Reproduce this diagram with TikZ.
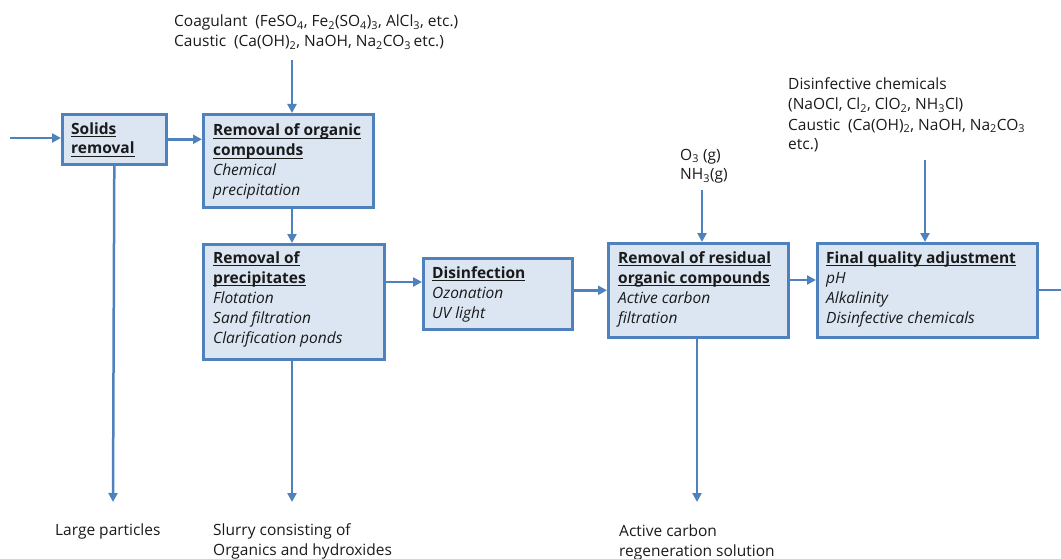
\documentclass[tikz,border=0pt]{standalone}
\usepackage{fontspec}
\setmainfont{Open Sans}
\usetikzlibrary{arrows.meta,calc}
\definecolor{flowblue}{HTML}{4F81BD}
\definecolor{boxfill}{HTML}{DCE6F2}
\definecolor{ink}{HTML}{1A1A1A}
% bold heading with a heavy underline
\newcommand{\hd}[1]{\setbox0\hbox{\textbf{#1}}\rlap{\rule[-3.2pt]{\wd0}{1.3pt}}\box0}
\newcommand{\sub}[1]{\textsubscript{#1}}
% text nodes are placed by the baseline of their last line
\tikzset{
  box/.style={draw=flowblue, fill=boxfill, line width=2.6pt, rectangle, inner sep=0pt, anchor=north west},
  label text/.style={anchor=base west, align=left, inner sep=0pt, text=ink,
    font=\fontsize{15.5}{20}\selectfont},
  flow/.style={draw=flowblue, line width=2.5pt, -{Triangle[length=9pt,width=9pt]}},
  plain flow/.style={draw=flowblue, line width=2.5pt},
}
\begin{document}
\begin{tikzpicture}[x=1pt,y=-1pt]
\useasboundingbox (0,0) rectangle (1061,559);

% process boxes
\node[box, minimum width=104pt, minimum height=50pt]  (solids)   at (61,113)  {};
\node[box, minimum width=170pt, minimum height=93pt]  (organic)  at (202,113) {};
\node[box, minimum width=181pt, minimum height=115pt] (precip)   at (202,243) {};
\node[box, minimum width=149pt, minimum height=71pt]  (disinf)   at (422,257) {};
\node[box, minimum width=180pt, minimum height=94pt]  (residual) at (607,242) {};
\node[box, minimum width=220pt, minimum height=94pt]  (final)    at (816,242) {};

% box contents
\node[label text] (solidsT)   at (71,154)  {\hd{Solids}\\\hd{removal}};
\node[label text] (organicT)  at (213,196) {\hd{Removal of organic}\\\hd{compounds}\\\textit{Chemical}\\\textit{precipitation}};
\node[label text] (precipT)   at (213,343) {\hd{Removal of}\\\hd{precipitates}\\\textit{Flotation}\\\textit{Sand filtration}\\\textit{Clarification ponds}};
\node[label text] (disinfT)   at (432,318) {\hd{Disinfection}\\\textit{Ozonation}\\\textit{UV light}};
\node[label text] (residualT) at (618,323) {\hd{Removal of residual}\\\hd{organic compounds}\\\textit{Active carbon}\\\textit{filtration}};
\node[label text] (finalT)    at (826,323) {\hd{Final quality adjustment}\\\textit{pH}\\\textit{Alkalinity}\\\textit{Disinfective chemicals}};

% inputs and outputs
\node[label text] (coag) at (174,47) {Coagulant\enspace(FeSO\sub{4}, Fe\sub{2}(SO\sub{4})\sub{3}, AlCl\sub{3}, etc.)\\Caustic\enspace(Ca(OH)\sub{2}, NaOH, Na\sub{2}CO\sub{3}\,etc.)};
\node[label text] (gas)  at (680,180) {O\sub{3} (g)\\NH\sub{3}(g)};
\node[label text] (dchem) at (788,150) {Disinfective chemicals\\(NaOCl, Cl\sub{2}, ClO\sub{2}, NH\sub{3}Cl)\\Caustic\enspace(Ca(OH)\sub{2}, NaOH, Na\sub{2}CO\sub{3}\\etc.)};
\node[label text] (large) at (55,535) {Large particles};
\node[label text] (slurry) at (213,555) {Slurry consisting of\\Organics and hydroxides};
\node[label text] (regen) at (619,556) {Active carbon\\regeneration solution};

% free connector ends
\coordinate (in)      at (10,138);
\coordinate (coagIn)  at (292,60);
\coordinate (gasIn)   at (702,190);
\coordinate (dchemIn) at (925,160);
\coordinate (largeOut)  at (113,502);
\coordinate (slurryOut) at (292,502);
\coordinate (regenOut)  at (697,502);
\coordinate (out)     at (1061,290);
\coordinate (pdLevel) at (0,282);
\coordinate (rfLevel) at (0,280);

% connectors
\draw[flow] (in) -- (in -| solids.west);
\draw[flow] (solids.east) -- (solids.east -| organic.west);
\draw[flow] (coagIn) -- (coagIn |- organic.north);
\draw[flow] (organic.south -| coagIn) -- (precip.north -| coagIn);
\draw[flow] (solids.south) -- (largeOut);
\draw[flow] (precip.south -| slurryOut) -- (slurryOut);
\draw[flow] (precip.east |- pdLevel) -- (disinf.west |- pdLevel);
\draw[flow] (disinf.east |- residual.west) -- (residual.west);
\draw[flow] (gasIn) -- (gasIn |- residual.north);
\draw[flow] (residual.east |- rfLevel) -- (final.west |- rfLevel);
\draw[flow] (dchemIn) -- (dchemIn |- final.north);
\draw[flow] (residual.south -| regenOut) -- (regenOut);
\draw[plain flow] (final.east |- out) -- (out);
\end{tikzpicture}
\end{document}
